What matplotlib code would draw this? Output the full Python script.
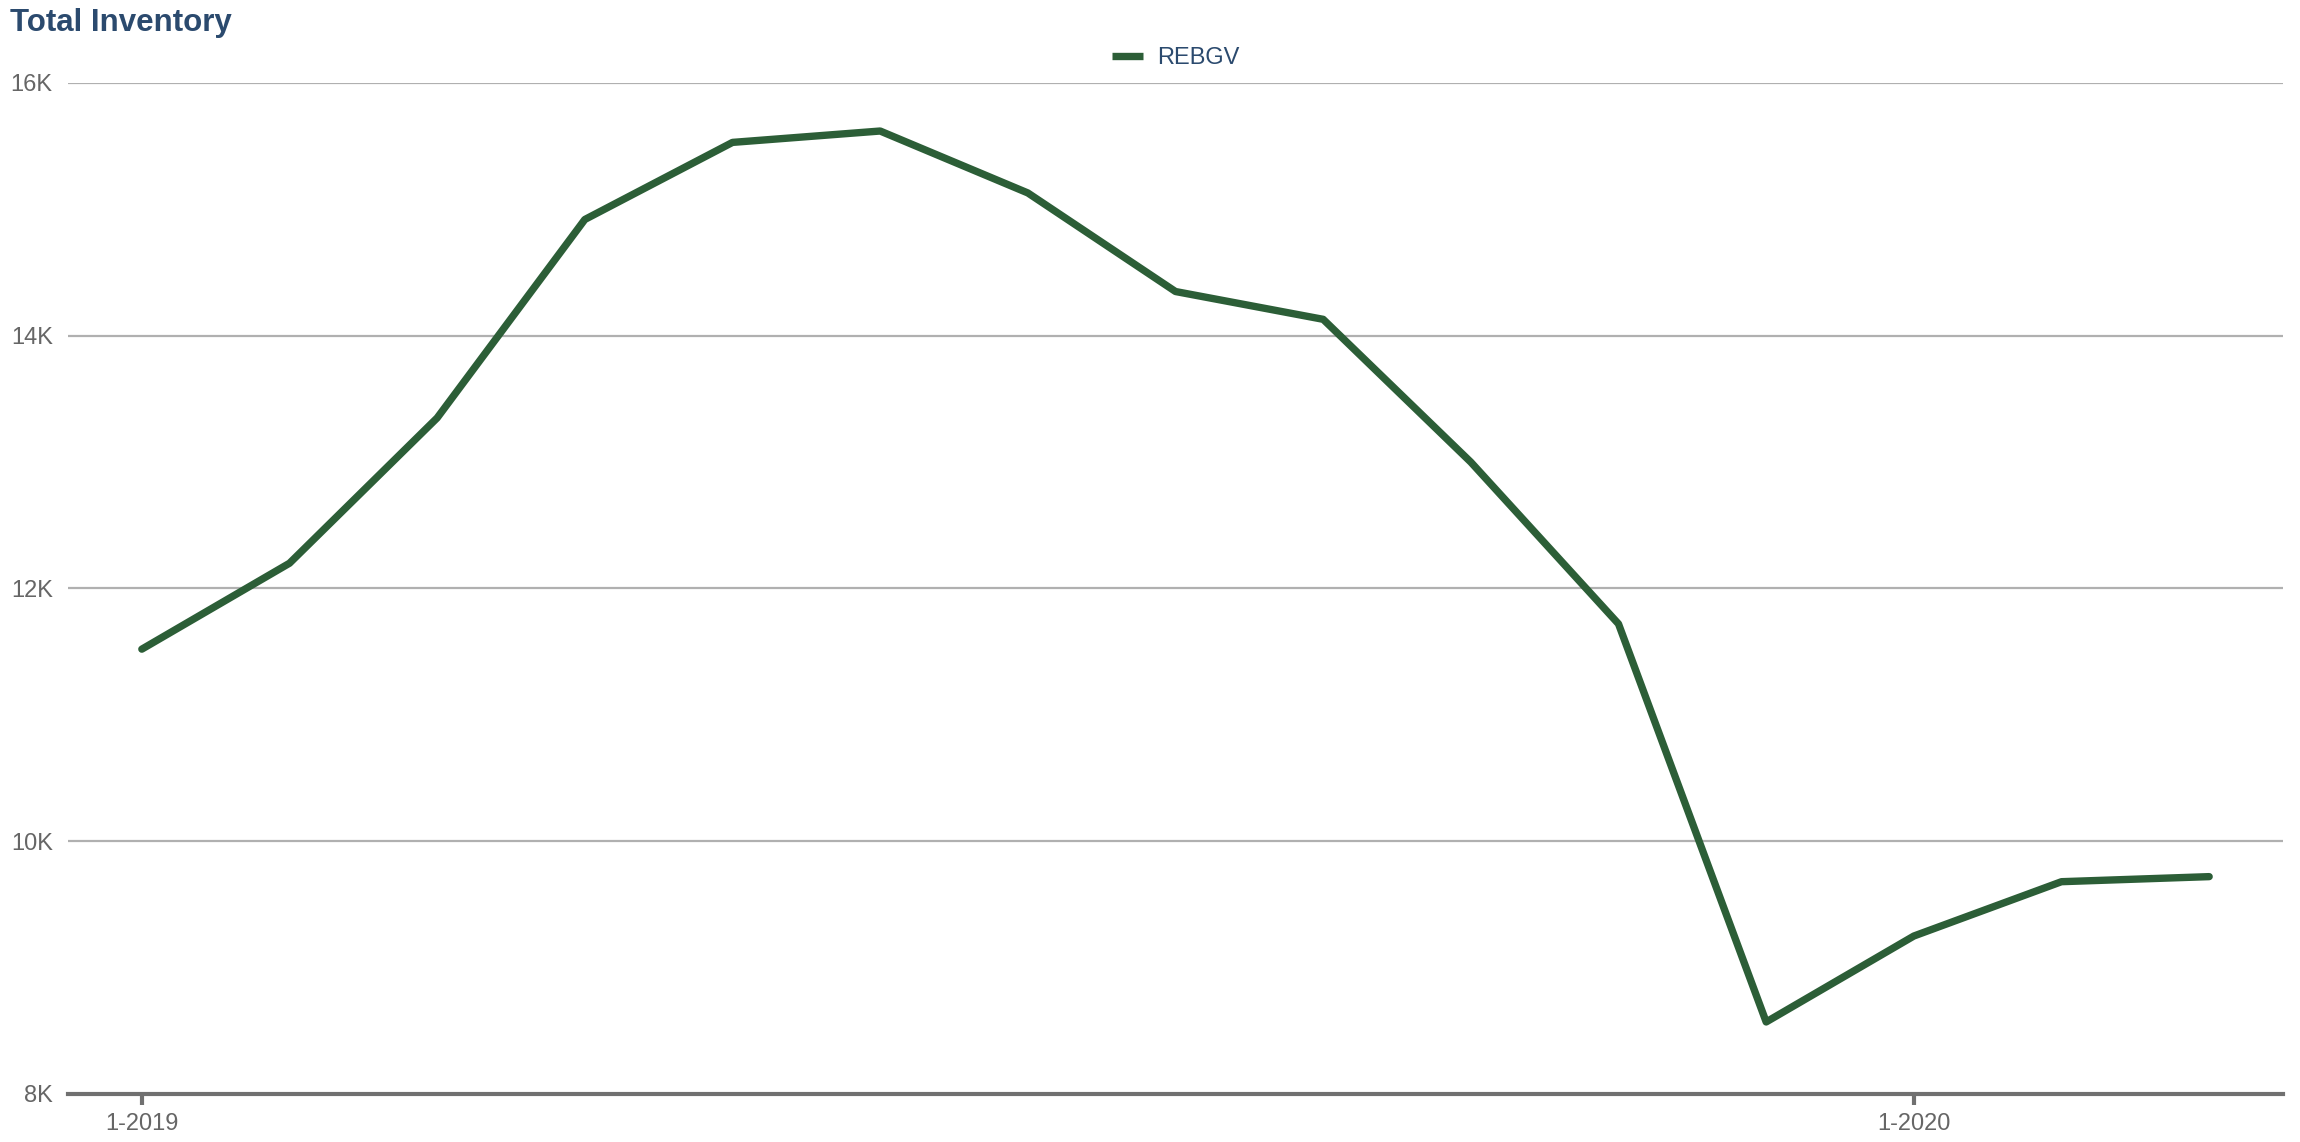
import matplotlib
matplotlib.use('Agg')
import matplotlib.pyplot as plt
from matplotlib.ticker import FuncFormatter

# monthly total inventory, Jan 2019 - Mar 2020
months = list(range(15))
inventory = [11520, 12200, 13350, 14920, 15530, 15620, 15130, 14350,
             14130, 13000, 11720, 8570, 9250, 9680, 9720]
x_ticks = [0, 12]
x_labels = ['1-2019', '1-2020']
y_ticks = [8000, 10000, 12000, 14000, 16000]

plt.rcParams['font.family'] = ['Liberation Sans', 'DejaVu Sans']

fig = plt.figure(figsize=(23, 11.42), dpi=100)
ax = fig.add_axes([68 / 2300, 48 / 1142, 2215 / 2300, 1011 / 1142])

ax.plot(months, inventory, color='#2c5e37', linewidth=5.3,
        solid_capstyle='round', solid_joinstyle='round', label='REBGV')

ax.set_xlim(-0.5, 14.5)
ax.set_ylim(8000, 16000)
ax.set_yticks(y_ticks)
ax.yaxis.set_major_formatter(FuncFormatter(lambda v, p: f'{int(v / 1000)}K'))
ax.set_xticks(x_ticks)
ax.set_xticklabels(x_labels)

ax.grid(axis='y', color='#b0b0b0', linewidth=1.6)
ax.set_axisbelow(True)
for side in ['top', 'right', 'left']:
    ax.spines[side].set_visible(False)
ax.spines['bottom'].set_color('#707070')
ax.spines['bottom'].set_linewidth(3)
ax.spines['bottom'].set_zorder(3)

ax.tick_params(axis='y', length=0, pad=11, labelsize=17, labelcolor='#666666')
ax.tick_params(axis='x', length=8, width=3, color='#707070', pad=6,
               labelsize=17, labelcolor='#666666')

fig.text(10 / 2300, 1 - 8 / 1142, 'Total Inventory', fontsize=22.5,
         fontweight='bold', color='#2b4a6e', va='top', ha='left')

leg = ax.legend(loc='lower center', bbox_to_anchor=(0.5, 1.0), frameon=False,
                fontsize=17, handlelength=1.3, handletextpad=0.6,
                borderaxespad=0.2)
for t in leg.get_texts():
    t.set_color('#2b4a6e')
for h in leg.get_lines():
    h.set_solid_capstyle('butt')

fig.savefig('out.png', dpi=100, facecolor='white')
